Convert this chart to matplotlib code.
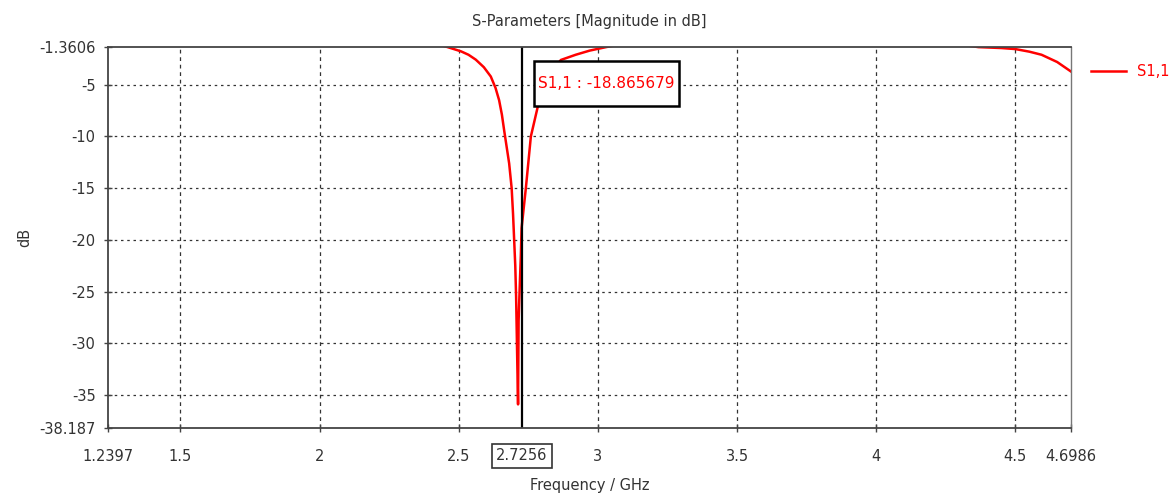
import numpy as np
import matplotlib
matplotlib.use("Agg")
import matplotlib.pyplot as plt
import matplotlib.transforms as mtransforms
from matplotlib.patches import Rectangle

# S1,1 curve (values above the top limit are clipped)
freq = [2.40, 2.46, 2.508, 2.535, 2.561, 2.59, 2.615, 2.632, 2.645, 2.655,
        2.663, 2.672, 2.681, 2.690, 2.695, 2.699, 2.703, 2.706, 2.709,
        2.711, 2.713, 2.715, 2.719, 2.723, 2.7256,
        2.741, 2.759, 2.784, 2.80, 2.83, 2.867, 2.92, 2.97, 3.029, 3.10,
        3.5, 4.0, 4.30, 4.367, 4.45, 4.50, 4.55, 4.594, 4.65, 4.6986]
s11 = [-0.9, -1.36, -1.77, -2.1, -2.57, -3.3, -4.2, -5.3, -6.5, -7.9,
       -9.4, -11.0, -12.6, -15.0, -17.5, -20.0, -22.5, -25.5, -30.0,
       -33.0, -35.9, -27.8, -24.5, -21.5, -18.865679,
       -15.0, -10.0, -7.1, -5.5, -3.8, -2.6, -2.1, -1.7, -1.36, -1.0,
       -0.5, -0.6, -1.1, -1.36, -1.45, -1.55, -1.8, -2.1, -2.8, -3.7]

x_min, x_max = 1.2397, 4.6986
y_min, y_max = -38.187, -1.3606
x_ticks = [1.2397, 1.5, 2, 2.5, 3, 3.5, 4, 4.5, 4.6986]
x_labels = ["1.2397", "1.5", "2", "2.5", "3", "3.5", "4", "4.5", "4.6986"]
y_ticks = [-1.3606, -5, -10, -15, -20, -25, -30, -35, -38.187]
y_labels = ["-1.3606", "-5", "-10", "-15", "-20", "-25", "-30", "-35", "-38.187"]
marker_f = 2.7256
marker_val = -18.865679

plt.rcParams['font.family'] = ['DejaVu Sans']
fig = plt.figure(figsize=(11.74, 4.96), dpi=100)
ax = fig.add_axes([0.092, 0.137, 0.820, 0.768])

ax.plot(freq, s11, color='red', lw=1.8, label='S1,1', zorder=2)
ax.axvline(marker_f, color='black', lw=1.6, zorder=2)

ax.set_xlim(x_min, x_max)
ax.set_ylim(y_min, y_max)
ax.set_xticks(x_ticks)
ax.set_xticklabels(x_labels)
ax.set_yticks(y_ticks)
ax.set_yticklabels(y_labels)
ax.tick_params(direction='inout', length=6, width=1, colors='#444',
               labelcolor='#333', labelsize=10.5, pad=6)
ax.tick_params(axis='x', pad=12)

# grid at the round values only
for v in [1.5, 2, 2.5, 3, 3.5, 4, 4.5]:
    ax.axvline(v, color='#333', lw=0.9, ls=(0, (3, 3)), zorder=0)
for v in [-5, -10, -15, -20, -25, -30, -35]:
    ax.axhline(v, color='#333', lw=0.9, ls=(0, (2, 3)), zorder=0)

for side in ['left', 'bottom', 'top']:
    ax.spines[side].set_color('#444')
    ax.spines[side].set_linewidth(1.3)
ax.spines['right'].set_color('#777')
ax.spines['right'].set_linewidth(1.0)

ax.set_title('S-Parameters [Magnitude in dB]', fontsize=10.5, color='#333', pad=15)
ax.set_xlabel('Frequency / GHz', fontsize=10.5, color='#333', labelpad=10)
ax.set_ylabel('dB', fontsize=10.5, color='#333', labelpad=5)

# marker readout box
box = Rectangle((2.770, -7.04), 0.522, 4.37, fc='white', ec='black', lw=1.8,
                zorder=3)
ax.add_patch(box)
ax.text(2.770 + 0.261, -4.85, 'S1,1 : %.6f' % marker_val, color='red',
        fontsize=11, va='center', ha='center', zorder=4)

trans = mtransforms.blended_transform_factory(ax.transData, ax.transAxes)
ax.text(marker_f, -0.053, '2.7256', transform=trans, ha='center', va='top',
        fontsize=10.5, color='#333',
        bbox=dict(boxstyle='square,pad=0.3', fc='white', ec='#333', lw=1.2))

ax.legend(loc='upper left', bbox_to_anchor=(1.007, 0.99), frameon=False,
          labelcolor='red', fontsize=10.5, handlelength=2.4)

fig.savefig('out.png', dpi=100)
